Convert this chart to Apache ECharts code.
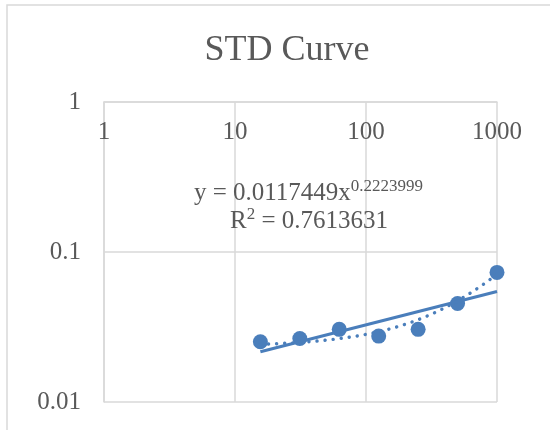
<!DOCTYPE html>
<html><head><meta charset="utf-8">
<script src="https://cdn.jsdelivr.net/npm/echarts@6/dist/echarts.min.js"></script>
<style>html,body{margin:0;padding:0;background:#fff}#c{width:550px;height:430px}</style>
</head><body><div id="c"></div>
<script>
// ---- data ----
const concentrations = [15.625, 31.25, 62.5, 125, 250, 500, 1000];
const stdValues = [0.0252, 0.0265, 0.0305, 0.0275, 0.0305, 0.0454, 0.0731];
const xTickLabels = ['1', '10', '100', '1000'];
const yTickLabels = ['0.01', '0.1', '1'];
const chartTitle = 'STD Curve';
// power trendline coefficients as printed on the chart
const powerA = 0.0117449;
const powerB = 0.2223999;
const eqText = 'y = 0.0117449x';
const eqExp = '0.2223999';
const r2Text = ' = 0.7613631';

// ---- derived trendlines ----
const FONT = '"Liberation Serif", "Times New Roman", serif';
const TEXT = '#595959';
const GRID = '#D9D9D9';
const BLUE = '#4A7EBB';

const n = concentrations.length;
const mx = concentrations.reduce((s, v) => s + v, 0) / n;
const my = stdValues.reduce((s, v) => s + v, 0) / n;
let sxy = 0, sxx = 0;
for (let i = 0; i < n; i++) {
  sxy += (concentrations[i] - mx) * (stdValues[i] - my);
  sxx += (concentrations[i] - mx) * (concentrations[i] - mx);
}
const linB = sxy / sxx, linA = my - linB * mx;   // least-squares linear trendline
const xLo = Math.min(...concentrations), xHi = Math.max(...concentrations);
const linTrend = [];
const steps = 80;
for (let k = 0; k <= steps; k++) {
  const x = Math.pow(10, Math.log10(xLo) + (Math.log10(xHi) - Math.log10(xLo)) * k / steps);
  linTrend.push([x, linA + linB * x]);
}
const powTrend = [xLo, xHi].map(x => [x, powerA * Math.pow(x, powerB)]);

const chart = echarts.init(document.getElementById('c'));
const axisFont = { fontFamily: FONT, fontSize: 25, color: TEXT };
chart.setOption({
  animation: false,
  backgroundColor: '#fff',
  title: {
    text: chartTitle, left: 282, top: 28, textAlign: 'center',
    textStyle: { fontFamily: FONT, fontSize: 36, fontWeight: 'normal', color: TEXT }
  },
  grid: { left: 104, top: 102, right: 53, bottom: 28 },
  xAxis: {
    type: 'log', logBase: 10, min: 1, max: 1000, position: 'top',
    axisLine: { show: true, lineStyle: { color: GRID, width: 1.5 } },
    axisTick: { show: false },
    splitLine: { show: true, lineStyle: { color: GRID, width: 1.5 } },
    axisLabel: Object.assign({ inside: true, margin: 18,
      formatter: v => xTickLabels.find(t => Math.abs(+t - v) < 1e-9 * Math.max(1, v)) || '' }, axisFont)
  },
  yAxis: {
    type: 'log', logBase: 10, min: 0.01, max: 1,
    axisLine: { show: true, lineStyle: { color: GRID, width: 1.5 } },
    axisTick: { show: false },
    splitLine: { show: true, lineStyle: { color: GRID, width: 1.5 } },
    axisLabel: Object.assign({ margin: 23,
      formatter: v => yTickLabels.find(t => Math.abs(+t - v) < 1e-6 * v) || '' }, axisFont)
  },
  series: [
    { type: 'scatter', data: concentrations.map((x, i) => [x, stdValues[i]]),
      symbolSize: 15, itemStyle: { color: BLUE, opacity: 1 }, z: 2 },
    { type: 'line', data: linTrend, symbol: 'none',
      lineStyle: { color: BLUE, width: 3.4, type: [0.1, 8], cap: 'round' }, z: 3 },
    { type: 'line', data: powTrend, symbol: 'none',
      lineStyle: { color: BLUE, width: 3 }, z: 3 }
  ],
  graphic: [
    { type: 'rect', shape: { x: 7, y: 5, width: 700, height: 600 }, silent: true,
      style: { fill: null, stroke: GRID, lineWidth: 1.5 } },
    { type: 'text', x: 308.5, y: 193, z: 10,
      style: { text: eqText + '{sup|' + eqExp + '}', align: 'center', verticalAlign: 'middle',
        fontFamily: FONT, fontSize: 25, lineHeight: 29, fill: TEXT,
        rich: { sup: { fontFamily: FONT, fontSize: 17, lineHeight: 19, verticalAlign: 'top', fill: TEXT } } } },
    { type: 'text', x: 309, y: 221, z: 10,
      style: { text: 'R{sup|2}' + r2Text, align: 'center', verticalAlign: 'middle',
        fontFamily: FONT, fontSize: 25, lineHeight: 29, fill: TEXT,
        rich: { sup: { fontFamily: FONT, fontSize: 17, lineHeight: 19, verticalAlign: 'top', fill: TEXT } } } }
  ]
});
</script></body></html>
